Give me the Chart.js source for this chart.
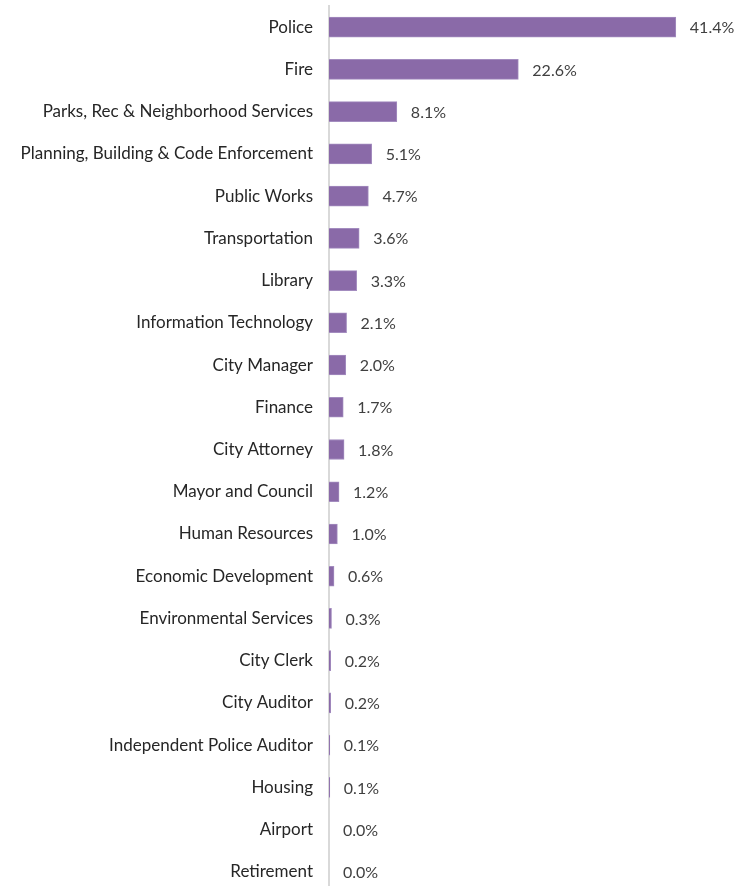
<!DOCTYPE html>
<html>
<head>
<meta charset="utf-8">
<script src="https://cdn.jsdelivr.net/npm/chart.js@4/dist/chart.umd.min.js"></script>
<style>
  html, body { margin: 0; padding: 0; background: #fff; overflow: hidden; }
</style>
</head>
<body>
<canvas id="chart" width="744" height="893"></canvas>
<script>
const departments = [
  'Police', 'Fire', 'Parks, Rec & Neighborhood Services',
  'Planning, Building & Code Enforcement', 'Public Works', 'Transportation',
  'Library', 'Information Technology', 'City Manager', 'Finance',
  'City Attorney', 'Mayor and Council', 'Human Resources',
  'Economic Development', 'Environmental Services', 'City Clerk',
  'City Auditor', 'Independent Police Auditor', 'Housing', 'Airport',
  'Retirement'
];
const shares = [41.4, 22.6, 8.1, 5.1, 4.7, 3.6, 3.3, 2.1, 2.0, 1.7, 1.8,
  1.2, 1.0, 0.6, 0.3, 0.2, 0.2, 0.1, 0.1, 0.0, 0.0];

const FONT = 'Lato, "Open Sans", sans-serif';

// value labels right of each bar
const valueLabels = {
  id: 'valueLabels',
  afterDatasetsDraw(chart) {
    const ctx = chart.ctx;
    const meta = chart.getDatasetMeta(0);
    ctx.save();
    ctx.font = '16px ' + FONT;
    ctx.fillStyle = '#404040';
    ctx.textAlign = 'left';
    ctx.textBaseline = 'middle';
    meta.data.forEach((bar, i) => {
      ctx.fillText(shares[i].toFixed(1) + '%', bar.x + 14, bar.y + 1);
    });
    ctx.restore();
  }
};

const ctx = document.getElementById('chart').getContext('2d');
new Chart(ctx, {
  type: 'bar',
  data: {
    labels: departments,
    datasets: [{
      data: shares,
      backgroundColor: '#8a6aa8',
      borderColor: '#a38cbf',
      borderWidth: 1,
      barThickness: 20
    }]
  },
  options: {
    indexAxis: 'y',
    responsive: false,
    animation: false,
    devicePixelRatio: 1,
    layout: { padding: { top: 6, right: 38, bottom: 0, left: 0 } },
    plugins: { legend: { display: false }, tooltip: { enabled: false } },
    scales: {
      x: {
        display: false,
        min: 0,
        max: 45
      },
      y: {
        afterFit: (scale) => {
          scale.width = 329;
          scale.paddingTop = 0;
          scale.paddingBottom = 0;
        },
        grid: { display: false, drawTicks: false },
        border: { display: true, color: '#d9d9d9', width: 2 },
        ticks: {
          padding: 16,
          color: '#262626',
          font: { family: FONT, size: 17 }
        }
      }
    }
  },
  plugins: [valueLabels]
});
</script>
</body>
</html>
